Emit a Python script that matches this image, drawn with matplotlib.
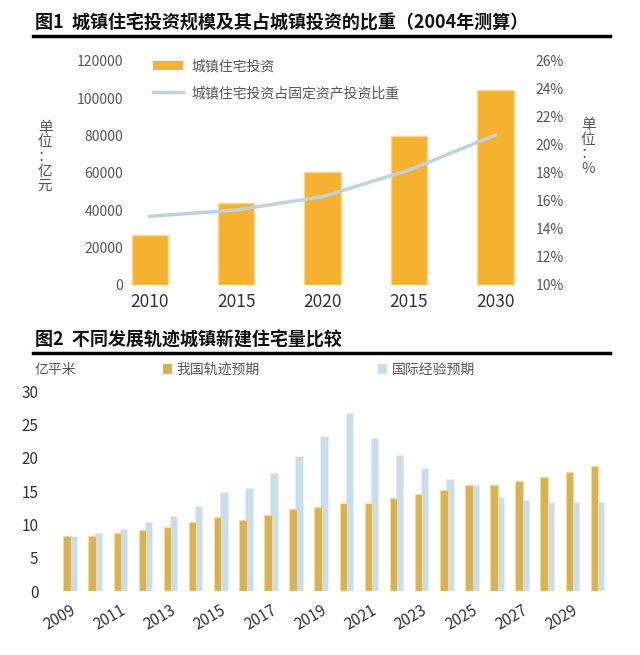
import numpy as np
import matplotlib
matplotlib.use("Agg")
import matplotlib.pyplot as plt
from matplotlib.patches import Patch
from matplotlib.lines import Line2D

plt.rcParams['font.family'] = ['Noto Sans CJK SC', 'DejaVu Sans']

# chart 1 data
years1 = ["2010", "2015", "2020", "2015", "2030"]
invest = [26800, 43700, 60300, 79700, 104300]
share = [14.9, 15.35, 16.3, 18.2, 20.7]

# chart 2 data
years2 = list(range(2009, 2031))
china = [8.25, 8.2, 8.7, 9.1, 9.65, 10.4, 11.15, 10.65, 11.4, 12.25, 12.65,
         13.25, 13.25, 13.9, 14.5, 15.15, 15.9, 15.9, 16.5, 17.15, 17.9, 18.75]
intl = [8.2, 8.75, 9.3, 10.3, 11.3, 12.75, 14.9, 15.4, 17.75, 20.25, 23.25,
        26.75, 22.9, 20.4, 18.4, 16.8, 15.9, 14.15, 13.65, 13.4, 13.4, 13.4]

W, H = 640, 655
fig = plt.figure(figsize=(6.4, 6.55), dpi=100)

def box(x0, y0, x1, y1):
    return [x0 / W, 1 - y1 / H, (x1 - x0) / W, (y1 - y0) / H]

gray = '#555555'
orange1 = '#F4B230'
line_blue = '#BBD4E3'
orange2 = '#D9B256'
blue2 = '#C8DEEB'

# titles and rules
fig.text(35 / W, 1 - 23 / H, "图1  城镇住宅投资规模及其占城镇投资的比重（2004年测算）",
         fontsize=13, fontweight='bold', va='center', ha='left', color='#111111')
fig.add_artist(Line2D([33 / W, 610 / W], [1 - 36 / H, 1 - 36 / H], color='black', lw=2.5))
fig.text(35 / W, 1 - 340 / H, "图2  不同发展轨迹城镇新建住宅量比较",
         fontsize=13, fontweight='bold', va='center', ha='left', color='#111111')
fig.add_artist(Line2D([33 / W, 610 / W], [1 - 353 / H, 1 - 353 / H], color='black', lw=2.5))

# ---- chart 1 ----
ax1 = fig.add_axes(box(129, 60.7, 530, 285))
x1 = np.arange(len(years1))
ax1.bar(x1, invest, width=0.42, color=orange1, edgecolor='#F9D98A', linewidth=1, zorder=2)
ax1.set_ylim(0, 120000)
ax1.set_yticks(range(0, 120001, 20000))
ax1.set_xlim(-0.24, 4.4)
ax1.set_xticks(x1)
ax1.set_xticklabels(years1)
for s in ax1.spines.values():
    s.set_visible(False)
ax1.tick_params(length=0, labelsize=10, colors=gray, pad=4)
ax1.tick_params(axis='x', labelsize=12.5, colors='#333333', pad=6)

ax1r = ax1.twinx()
ax1r.plot(x1, share, color=line_blue, lw=2.5, zorder=3)
ax1r.set_ylim(10, 26)
ax1r.set_yticks(range(10, 27, 2))
ax1r.set_yticklabels([f"{v}%" for v in range(10, 27, 2)])
for s in ax1r.spines.values():
    s.set_visible(False)
ax1r.tick_params(length=0, labelsize=10, colors=gray, pad=4)

fig.text(45 / W, 1 - 157 / H, "单\n位\n：\n亿\n元", fontsize=10.5, color=gray,
         ha='center', va='center', linespacing=1.05)
fig.text(588 / W, 1 - 147 / H, "单\n位\n：\n%", fontsize=10.5, color=gray,
         ha='center', va='center', linespacing=1.05)

handles1 = [Patch(facecolor=orange1, edgecolor='none'),
            Line2D([0], [0], color=line_blue, lw=2.5)]
leg1 = fig.legend(handles1, ["城镇住宅投资", "城镇住宅投资占固定资产投资比重"],
                  loc='upper left', bbox_to_anchor=(140 / W, 1 - 47 / H),
                  frameon=False, fontsize=10, handlelength=2.2, handleheight=0.6,
                  labelspacing=0.9, handletextpad=0.6)
for t in leg1.get_texts():
    t.set_color(gray)

# ---- chart 2 ----
ax2 = fig.add_axes(box(55, 391, 615, 591))
x2 = np.arange(len(years2))
bw = 0.3
ax2.bar(x2 - 0.12, china, width=bw, color=orange2, edgecolor='#F3DC9A', linewidth=0.8, zorder=3)
ax2.bar(x2 + 0.12, intl, width=bw, color=blue2, edgecolor='#E3EFF6', linewidth=0.8, zorder=2)
ax2.set_ylim(0, 30)
ax2.set_yticks(range(0, 31, 5))
ax2.set_xlim(-0.6, 21.7)
ax2.set_xticks(x2[::2])
ax2.set_xticklabels([str(y) for y in years2[::2]], rotation=30, ha='right',
                    rotation_mode='anchor')
for s in ax2.spines.values():
    s.set_visible(False)
ax2.tick_params(length=0, labelsize=11, colors='#333333', pad=8)
ax2.tick_params(axis='y', pad=12)

fig.text(35 / W, 1 - 370 / H, "亿平米", fontsize=10, color=gray, ha='left', va='center')
handles2 = [Patch(facecolor=orange2, edgecolor='none'),
            Patch(facecolor=blue2, edgecolor='none')]
leg2 = fig.legend(handles2, ["我国轨迹预期", "国际经验预期"], loc='center left',
                  bbox_to_anchor=(150 / W, 1 - 370 / H), ncol=2, frameon=False,
                  fontsize=10, handlelength=0.7, handleheight=0.7, handletextpad=0.3,
                  columnspacing=8.5)
for t in leg2.get_texts():
    t.set_color(gray)

fig.savefig("out.png", dpi=100, facecolor='white')
